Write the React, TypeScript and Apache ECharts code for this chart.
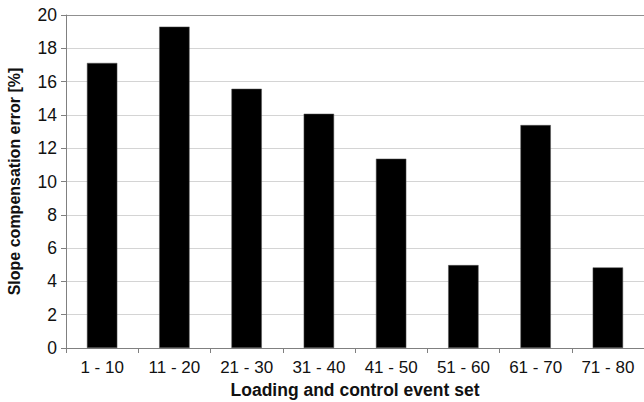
import React, { useEffect, useRef } from "react";
import * as echarts from "echarts";

const categories = ["1 - 10", "11 - 20", "21 - 30", "31 - 40", "41 - 50", "51 - 60", "61 - 70", "71 - 80"];
const values = [17.12, 19.3, 15.57, 14.07, 11.37, 4.98, 13.39, 4.84];
const yTicks = { min: 0, max: 20, interval: 2 };

export default function App() {
  const ref = useRef<HTMLDivElement>(null);
  useEffect(() => {
    if (!ref.current) return;
    const chart = echarts.init(ref.current, undefined, { renderer: "svg" });
    const font = "Liberation Sans, Arial, Helvetica, sans-serif";
    const gridColors = ["#d4d4d4", "#d4d4d4", "#d4d4d4", "#d4d4d4", "#d4d4d4", "#d4d4d4", "#d4d4d4", "#d4d4d4", "#d4d4d4", "#d4d4d4", "#909090"];
    chart.setOption({
      animation: false,
      backgroundColor: "#ffffff",
      grid: { left: 66, right: 0, top: 15, bottom: 54, containLabel: false, outerBoundsMode: "none" },
      xAxis: {
        type: "category",
        data: categories,
        name: "Loading and control event set",
        nameLocation: "middle",
        nameGap: 33,
        nameTextStyle: { fontFamily: font, fontSize: 17.5, fontWeight: "bold", color: "#111" },
        axisLine: { lineStyle: { color: "#808080", width: 1 } },
        axisTick: { show: true, alignWithLabel: false, length: 5, lineStyle: { color: "#808080" } },
        axisLabel: { fontFamily: font, fontSize: 17, color: "#111", margin: 11 },
        splitLine: { show: false },
      },
      yAxis: {
        type: "value",
        min: yTicks.min,
        max: yTicks.max,
        interval: yTicks.interval,
        name: "Slope compensation error [%]",
        nameLocation: "middle",
        nameRotate: 90,
        nameGap: 44,
        nameTextStyle: { fontFamily: font, fontSize: 16, fontWeight: "bold", color: "#111" },
        axisLine: { show: true, lineStyle: { color: "#808080", width: 1 } },
        axisTick: { show: true, length: 5, lineStyle: { color: "#808080" } },
        axisLabel: { fontFamily: font, fontSize: 17.5, color: "#111", margin: 9 },
        splitLine: { show: true, lineStyle: { color: gridColors, width: 1 } },
      },
      series: [
        {
          type: "bar",
          data: values,
          barWidth: "42%",
          itemStyle: { color: "#000000", borderColor: "#555", borderWidth: 0.5 },
        },
      ],
    });
    return () => chart.dispose();
  }, []);
  return <div ref={ref} style={{ position: "fixed", left: 0, top: 0, width: 644, height: 402 }} />;
}
